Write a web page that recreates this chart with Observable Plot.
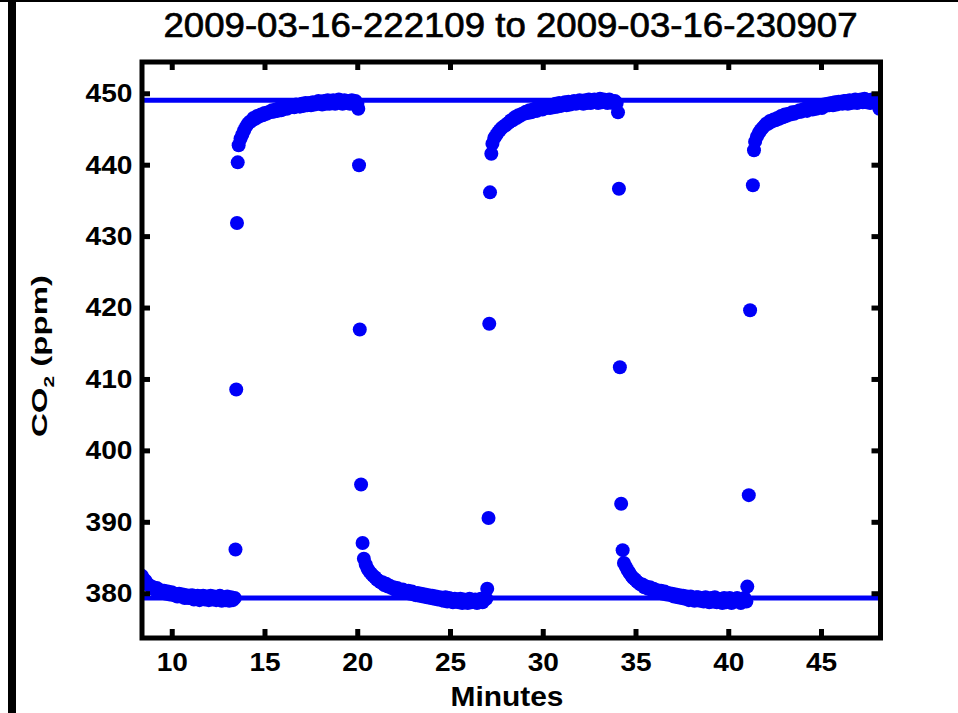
<!DOCTYPE html>
<html>
<head>
<meta charset="utf-8">
<script src="https://cdn.jsdelivr.net/npm/d3@7"></script>
<script src="https://cdn.jsdelivr.net/npm/@observablehq/plot@0.6"></script>
<style>
  html, body { margin: 0; padding: 0; background: #fff; }
  #chart { position: relative; width: 958px; height: 713px; overflow: hidden; background: #fff; }
  #chart svg { position: absolute; left: 0; top: 0; }
  #edge-left { position: absolute; left: 8px; top: 0; width: 8px; height: 713px; background: #000; z-index: 2; }
  #edge-top { position: absolute; left: 0; top: 0; width: 958px; height: 2px; background: #000; z-index: 2; }
</style>
</head>
<body>
<div id="chart"><div id="edge-left"></div><div id="edge-top"></div></div>
<script>
// CO2 analyser log, 2009-03-16 22:21:09 to 23:09:07, switching between two span gases.

const titleText = "2009-03-16-222109 to 2009-03-16-230907";
const xLabelText = "Minutes";

// minutes between logged readings inside each steady segment
const sampleStep = 0.1;

// segment 1: settling down onto the low gas
const seg1Start = 8.37;
const seg1Values = [
  382.5, 382.0, 381.8, 381.3, 381.2, 380.9, 380.9, 380.5, 380.8, 380.4,
  380.5, 380.2, 380.4, 380.0, 380.3, 379.9, 380.2, 379.8, 380.0, 379.6,
  380.0, 379.6, 379.9, 379.4, 379.8, 379.4, 379.7, 379.8, 379.2, 379.6,
  379.7, 379.1, 379.6, 379.7, 379.2, 379.6, 379.1, 379.7, 379.2, 379.6,
  379.1, 379.5, 379.7, 379.0, 379.5, 379.1, 379.6, 379.0, 379.5, 379.1, 379.4
];

// segment 2: rising onto the high gas
const seg2Start = 13.58;
const seg2Values = [
  442.8, 443.7, 444.3, 444.9, 445.4, 445.8, 446.1, 446.2, 446.6, 446.5,
  446.9, 446.8, 447.1, 447.0, 447.3, 447.2, 447.4, 447.4, 447.7, 447.5,
  447.8, 447.6, 448.0, 447.7, 448.1, 448.2, 447.9, 448.3, 448.1, 448.4,
  448.1, 448.5, 448.3, 448.2, 448.6, 448.3, 448.7, 448.4, 448.7, 448.4,
  448.8, 448.5, 448.6, 449.0, 448.6, 448.5, 449.0, 448.6, 449.1, 448.6,
  448.9, 449.1, 448.6, 448.8, 449.2, 448.7, 448.6, 449.1, 448.7, 449.0,
  448.6, 449.1, 448.7, 449.0, 448.6
];

// segment 3: back down to the low gas
const seg3Start = 20.33;
const seg3Values = [
  384.9, 384.1, 383.5, 383.1, 382.8, 382.5, 382.3, 382.0, 381.8, 381.6,
  381.6, 381.2, 381.4, 381.0, 381.1, 380.8, 380.9, 380.5, 380.8, 380.4,
  380.5, 380.6, 380.2, 380.1, 380.4, 380.0, 380.3, 379.9, 379.8, 380.1,
  379.7, 380.0, 379.6, 379.9, 379.5, 379.8, 379.4, 379.7, 379.3, 379.6,
  379.2, 379.5, 379.1, 379.0, 379.5, 378.9, 379.4, 379.1, 378.8, 379.3,
  379.0, 378.8, 379.3, 378.7, 379.2, 378.9, 378.7, 379.3, 378.8, 379.1,
  379.2, 378.7, 379.0, 379.3, 378.8, 379.2, 379.3
];

// segment 4: high gas again
const seg4Start = 27.26;
const seg4Values = [
  443.0, 443.8, 444.2, 444.6, 444.9, 445.2, 445.4, 445.6, 445.8, 446.0,
  446.3, 446.3, 446.7, 446.6, 447.0, 446.9, 447.2, 447.2, 447.5, 447.3,
  447.7, 447.4, 447.8, 447.9, 447.6, 448.0, 448.1, 447.8, 448.3, 448.0,
  448.3, 448.0, 448.4, 448.1, 448.6, 448.2, 448.7, 448.3, 448.6, 448.8,
  448.4, 448.9, 448.5, 448.7, 449.0, 448.6, 448.8, 449.1, 448.7, 448.6,
  449.1, 448.7, 449.2, 448.7, 449.0, 449.2, 448.8, 448.7, 449.3, 448.8,
  449.2, 448.8, 448.7, 449.2, 448.9, 448.7, 449.0, 448.7
];

// segment 5: low gas again
const seg5Start = 34.35;
const seg5Values = [
  384.3, 383.8, 383.3, 382.9, 382.5, 382.2, 382.0, 381.7, 381.5, 381.3,
  381.3, 380.9, 381.0, 380.7, 380.9, 380.5, 380.7, 380.3, 380.5, 380.2,
  380.4, 380.0, 380.3, 379.9, 380.1, 379.8, 380.0, 379.6, 379.9, 379.5,
  379.8, 379.4, 379.7, 379.3, 379.6, 379.1, 379.6, 379.2, 379.0, 379.5,
  379.5, 379.0, 379.4, 378.9, 379.5, 379.1, 378.8, 379.4, 378.9, 379.5,
  378.8, 379.3, 379.0, 378.7, 379.4, 378.8, 379.2, 379.4, 378.7, 379.2,
  378.9, 379.4, 379.0, 378.7, 379.2, 379.4, 378.9
];

// segment 6: high gas to the end of the log
const seg6Start = 41.42;
const seg6Values = [
  443.3, 444.0, 444.5, 444.9, 445.2, 445.5, 445.8, 445.8, 446.2, 446.1,
  446.4, 446.3, 446.6, 446.5, 446.9, 446.7, 447.1, 446.9, 447.2, 447.1,
  447.4, 447.2, 447.5, 447.4, 447.7, 447.5, 447.8, 447.9, 447.6, 448.0,
  448.1, 447.8, 448.2, 447.9, 448.3, 448.4, 448.0, 448.5, 448.3, 448.6,
  448.4, 448.7, 448.4, 448.8, 448.5, 448.9, 448.9, 448.6, 449.0, 449.0,
  448.6, 449.1, 448.7, 449.0, 449.2, 448.7, 449.0, 449.2, 448.8, 449.3,
  448.8, 449.1, 448.7, 449.2, 449.2, 448.8, 448.9, 447.9
];

// readings caught while the valve was switching
const switchTimes = [
  13.41, 13.45, 13.49, 13.53,
  20.03, 20.07, 20.11, 20.18, 20.26,
  26.98, 27.05, 27.09, 27.13, 27.20,
  34.03, 34.08, 34.13, 34.20, 34.28,
  41.00, 41.08, 41.15, 41.30, 41.36
];
const switchValues = [
  386.2, 408.6, 431.9, 440.4,
  447.9, 440.0, 417.0, 395.3, 387.1,
  380.7, 390.6, 417.8, 436.2, 441.6,
  447.4, 436.7, 411.7, 392.6, 386.1,
  381.0, 393.8, 419.7, 437.2, 442.1
];

// reference levels of the two gases
const gasLevels = [449.1, 379.4];

const xTicks = [10, 15, 20, 25, 30, 35, 40, 45];
const yTicks = [380, 390, 400, 410, 420, 430, 440, 450];

const segments = [
  [seg1Start, seg1Values], [seg2Start, seg2Values], [seg3Start, seg3Values],
  [seg4Start, seg4Values], [seg5Start, seg5Values], [seg6Start, seg6Values]
];
const readings = [];
for (const [start, values] of segments) {
  values.forEach((v, i) => readings.push({t: start + i * sampleStep, co2: v}));
}
switchTimes.forEach((t, i) => readings.push({t, co2: switchValues[i]}));
readings.sort((a, b) => a.t - b.t);

const W = 958, H = 713;
const mLeft = 141.5, mRight = 78, mTop = 61.5, mBottom = 75.5;
const innerW = W - mLeft - mRight, innerH = H - mTop - mBottom;
const tickLen = 8.5;
const blue = "#0000f8";
const font = "'Liberation Sans', Arial, Helvetica, sans-serif";

const svgNode = Plot.plot({
  width: W,
  height: H,
  marginLeft: mLeft,
  marginRight: mRight,
  marginTop: mTop,
  marginBottom: mBottom,
  style: {fontFamily: font, color: "black", background: "white", overflow: "visible"},
  x: {domain: [8.37, 48.18]},
  y: {domain: [373.8, 454.45]},
  marks: [
    Plot.ruleY(gasLevels, {y: d => d, stroke: blue, strokeWidth: 5}),
    Plot.dot(readings, {x: "t", y: "co2", r: 7, fill: blue, stroke: null, clip: true}),
    Plot.frame({stroke: "black", strokeWidth: 5}),
    // inward ticks on all four sides
    Plot.tickX(xTicks, {x: d => d, stroke: "black", strokeWidth: 5, insetBottom: innerH - tickLen}),
    Plot.tickX(xTicks, {x: d => d, stroke: "black", strokeWidth: 5, insetTop: innerH - tickLen}),
    Plot.tickY(yTicks, {y: d => d, stroke: "black", strokeWidth: 5, insetRight: innerW - tickLen}),
    Plot.tickY(yTicks, {y: d => d, stroke: "black", strokeWidth: 5, insetLeft: innerW - tickLen}),
    Plot.axisX(xTicks, {tickSize: 0, tickPadding: 14.5, fontSize: 26, fontWeight: "bold", fill: "black", label: null}),
    Plot.axisY(yTicks, {tickSize: 0, tickPadding: 9.5, fontSize: 26, fontWeight: "bold", fill: "black", label: null})
  ]
});

const chart = document.getElementById("chart");
chart.insertBefore(svgNode, chart.firstChild);
const svg = d3.select(svgNode);

// the axis numerals are set slightly wide
svg.selectAll('g[aria-label="x-axis tick label"] text, g[aria-label="y-axis tick label"] text')
  .each(function () {
    const len = this.getComputedTextLength();
    this.setAttribute("textLength", (len * 1.08).toFixed(1));
    this.setAttribute("lengthAdjust", "spacingAndGlyphs");
  });

svg.append("text")
  .attr("x", 510.5).attr("y", 37)
  .attr("text-anchor", "middle")
  .attr("font-family", font).attr("font-size", 35)
  .attr("fill", "black").attr("stroke", "black").attr("stroke-width", 0.7)
  .attr("textLength", 694).attr("lengthAdjust", "spacingAndGlyphs")
  .text(titleText);

svg.append("text")
  .attr("x", 507).attr("y", 706)
  .attr("text-anchor", "middle")
  .attr("font-family", font).attr("font-size", 28).attr("font-weight", "bold")
  .attr("fill", "black")
  .attr("textLength", 113).attr("lengthAdjust", "spacingAndGlyphs")
  .text(xLabelText);

const yLab = svg.append("text")
  .attr("transform", "translate(47,437) rotate(-90)")
  .attr("text-anchor", "start")
  .attr("font-family", font).attr("font-size", 22).attr("font-weight", "bold")
  .attr("fill", "black");
yLab.append("tspan").text("CO");
yLab.append("tspan").attr("font-size", 14).attr("dy", 7).text("2");
yLab.append("tspan").attr("dy", -7).text(" (ppm)");
yLab.attr("textLength", 162).attr("lengthAdjust", "spacingAndGlyphs");
</script>
</body>
</html>
